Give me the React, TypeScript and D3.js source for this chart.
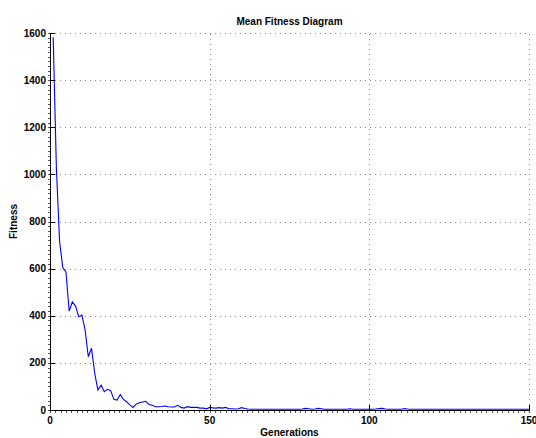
import React from "react";
import * as d3 from "d3";

// Mean fitness of the population per generation (generations 1..150)
const fitness: number[] = [
  1582, 1026, 715, 605, 585, 420, 459, 441, 396, 403,
  339, 226, 262, 156, 85, 106, 78, 88, 82, 45,
  42, 66, 45, 35, 22, 11, 25, 31, 34, 37,
  23, 20, 14, 14, 15, 17, 14, 13, 13, 20,
  11, 8, 14, 11, 11, 11, 8, 8, 5, 11,
  9, 8, 10, 8, 11, 5, 5, 4, 5, 10,
  6, 4, 3, 3, 3, 3, 3, 3, 3, 3,
  3, 3, 3, 3, 3, 3, 3, 3, 4, 7,
  5, 3, 4, 7, 5, 3, 3, 3, 3, 3,
  3, 3, 3, 5, 3, 3, 3, 3, 3, 3,
  3, 4, 6, 7, 4, 3, 3, 3, 3, 3,
  6, 4, 3, 3, 3, 3, 3, 3, 3, 3,
  3, 3, 3, 3, 3, 3, 3, 3, 3, 3,
  3, 3, 3, 3, 3, 3, 3, 3, 3, 3,
  3, 3, 3, 3, 3, 3, 3, 3, 3, 3,
];

const xTicks = [0, 50, 100, 150];
const yTicks = [0, 200, 400, 600, 800, 1000, 1200, 1400, 1600];

const title = "Mean Fitness Diagram";
const xLabel = "Generations";
const yLabel = "Fitness";

const W = 536;
const H = 438;
const left = 50;
const right = 529;
const top = 33;
const bottom = 410;

const font = "'Liberation Sans', Arial, sans-serif";

export default function App() {
  const x = d3.scaleLinear().domain([0, 150]).range([left, right]);
  const y = d3.scaleLinear().domain([0, 1600]).range([bottom, top]);

  const line = d3
    .line<number>()
    .x((_, i) => x(i + 1))
    .y((d) => y(d));

  const yMinor = d3.range(0, 1600.001, 20);
  const xMinor = d3.range(0, 150.001, 5 / 3);

  return (
    <svg
      width={W}
      height={H}
      style={{ position: "absolute", left: 0, top: 0, background: "#fff" }}
      fontFamily={font}
    >
      <rect x={0} y={0} width={W} height={H} fill="#fff" />

      {/* dotted grid */}
      <g stroke="#8c8c8c" strokeWidth={1} strokeDasharray="1,4" shapeRendering="crispEdges">
        {yTicks
          .filter((t) => t > 0)
          .map((t) => (
            <line key={"gy" + t} x1={left} x2={right} y1={Math.round(y(t)) + 0.5} y2={Math.round(y(t)) + 0.5} />
          ))}
        {xTicks
          .filter((t) => t > 0)
          .map((t) => (
            <line key={"gx" + t} x1={Math.round(x(t)) + 0.5} x2={Math.round(x(t)) + 0.5} y1={bottom} y2={top} />
          ))}
      </g>

      {/* fitness curve */}
      <path d={line(fitness) ?? ""} fill="none" stroke="#0000ff" strokeWidth={1.1} />

      {/* axes */}
      <g stroke="#000" strokeWidth={1} shapeRendering="crispEdges">
        <line x1={left + 0.5} x2={left + 0.5} y1={top} y2={bottom + 1} />
        <line x1={left} x2={right + 1} y1={bottom + 0.5} y2={bottom + 0.5} />
        {yMinor.map((t) => (
          <line key={"my" + t} x1={left - 2} x2={left} y1={Math.round(y(t)) + 0.5} y2={Math.round(y(t)) + 0.5} stroke="#555" />
        ))}
        {xMinor.map((t, i) => (
          <line key={"mx" + i} x1={Math.round(x(t)) + 0.5} x2={Math.round(x(t)) + 0.5} y1={bottom + 1} y2={bottom + 3} stroke="#555" />
        ))}
        {yTicks.map((t) => (
          <line key={"ty" + t} x1={left} x2={left + 5} y1={Math.round(y(t)) + 0.5} y2={Math.round(y(t)) + 0.5} />
        ))}
        {xTicks.map((t) => (
          <line key={"tx" + t} x1={Math.round(x(t)) + 0.5} x2={Math.round(x(t)) + 0.5} y1={bottom} y2={bottom - 5} />
        ))}
      </g>

      {/* tick labels */}
      <g fontSize={10} fontWeight="bold" fill="#000">
        {yTicks.map((t) => (
          <text key={"ly" + t} x={left - 4} y={y(t)} dy="0.35em" textAnchor="end">
            {t}
          </text>
        ))}
        {xTicks.map((t) => (
          <text key={"lx" + t} x={x(t)} y={423.5} textAnchor="middle">
            {t}
          </text>
        ))}
      </g>

      {/* titles */}
      <text x={(left + right) / 2} y={24.5} textAnchor="middle" fontSize={10} fontWeight="bold">
        {title}
      </text>
      <text x={(left + right) / 2} y={436} textAnchor="middle" fontSize={10} fontWeight="bold">
        {xLabel}
      </text>
      <text
        transform={`translate(17,${(top + bottom) / 2}) rotate(-90)`}
        textAnchor="middle"
        fontSize={10}
        fontWeight="bold"
      >
        {yLabel}
      </text>
    </svg>
  );
}
